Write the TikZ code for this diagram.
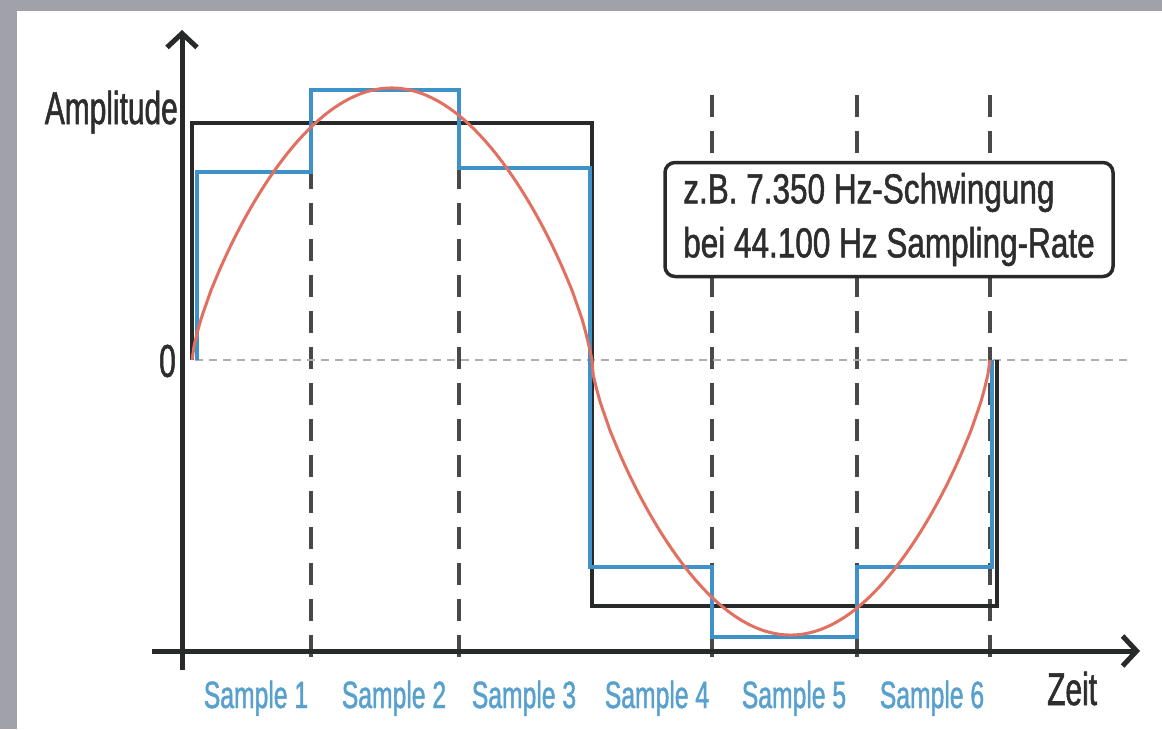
\documentclass[tikz,border=0pt]{standalone}
\usepackage{fontspec}
\setmainfont{Liberation Sans}[FakeStretch=0.75,FakeBold=1.2]
\newfontfamily\narrowfont{Liberation Sans}[FakeStretch=0.65,FakeBold=1.2]
\usetikzlibrary{arrows.meta}
\definecolor{bgray}{RGB}{161,161,170}
\definecolor{axisc}{RGB}{40,42,42}
\definecolor{bluec}{RGB}{62,146,200}
\definecolor{redc}{RGB}{226,112,96}
\definecolor{labelblue}{RGB}{88,160,206}
\definecolor{textc}{RGB}{45,45,45}
\definecolor{zerogray}{RGB}{175,175,175}
\begin{document}
\begin{tikzpicture}[x=1pt,y=-1pt,
  axisline/.style={line width=5pt, draw=axisc, -{Straight Barb[length=14pt,width=30pt,line width=5pt]}},
  sampleline/.style={line width=4pt, draw=axisc!85, dash pattern=on 22pt off 14pt},
  zeroline/.style={line width=2pt, draw=zerogray, dash pattern=on 8pt off 6pt},
  squarewave/.style={line width=4pt, draw=axisc, line join=miter},
  stepwave/.style={line width=4pt, draw=bluec, line join=miter},
  sinewave/.style={line width=3pt, draw=redc},
  samplelabel/.style={font=\narrowfont\fontsize{38}{40}\selectfont, text=labelblue, anchor=base, inner sep=0pt},
  axislabel/.style={font=\narrowfont\fontsize{46}{48}\selectfont, text=textc, inner sep=0pt},
  infobox/.style={draw=axisc, fill=white, line width=3.5pt, rounded corners=10pt, align=left,
    font=\fontsize{42}{54}\selectfont, text=textc, inner xsep=18pt, minimum width=448pt, minimum height=114pt}]
% background
\fill[bgray] (0,0) rectangle (1162,729);
\fill[white] (17,11) rectangle (1162,729);
\useasboundingbox (0,0) rectangle (1162,729);

% coordinates
\coordinate (ybot) at (182,670);
\coordinate (ytop) at (182,30);
\coordinate (xleft) at (152,651);
\coordinate (xright) at (1140,651);

% sample lines
\foreach \sx in {311,459,712,857,990}
  \draw[sampleline] (\sx,95) -- (\sx,670);

% zero line
\draw[zeroline] (195,360) -- (1130,360);

% square wave
\draw[squarewave] (192,360) -- (192,123) -- (592,123) -- (592,606) -- (997,606) -- (997,360);

% sample-and-hold
\draw[stepwave] (197,360) -- (197,172) -- (311,172) -- (311,90) -- (459,90) -- (459,168)
  -- (590,168) -- (590,567) -- (712,567) -- (712,637) -- (857,637) -- (857,567)
  -- (992,567) -- (992,360);

% sine
\draw[sinewave] (192,360)
  -- plot[domain=1:179, samples=120] ({192+2.2167*\x}, {360-272*(sin(\x))^0.72})
  -- (592,360)
  -- plot[domain=181:359, samples=120] ({192+2.2167*\x}, {360+275*(-sin(\x))^0.72})
  -- (990,360);

% axes
\draw[axisline] (ybot) -- (ytop);
\draw[axisline] (xleft) -- (xright);

% labels
\node[axislabel, anchor=base east] (amp) at (178,124) {Amplitude};
\node[axislabel, anchor=east] (zero) at (176,361) {0};
\node[axislabel, anchor=base west] (zeit) at (1047,705) {Zeit};

\node[samplelabel] (s1) at (256,708) {Sample 1};
\node[samplelabel] (s2) at (394,708) {Sample 2};
\node[samplelabel] (s3) at (524,708) {Sample 3};
\node[samplelabel] (s4) at (657,708) {Sample 4};
\node[samplelabel] (s5) at (794,708) {Sample 5};
\node[samplelabel] (s6) at (932,708) {Sample 6};

\node[infobox] (info) at (889,219.5) {z.B. 7.350 Hz-Schwingung\\bei 44.100 Hz Sampling-Rate};
\end{tikzpicture}
\end{document}
